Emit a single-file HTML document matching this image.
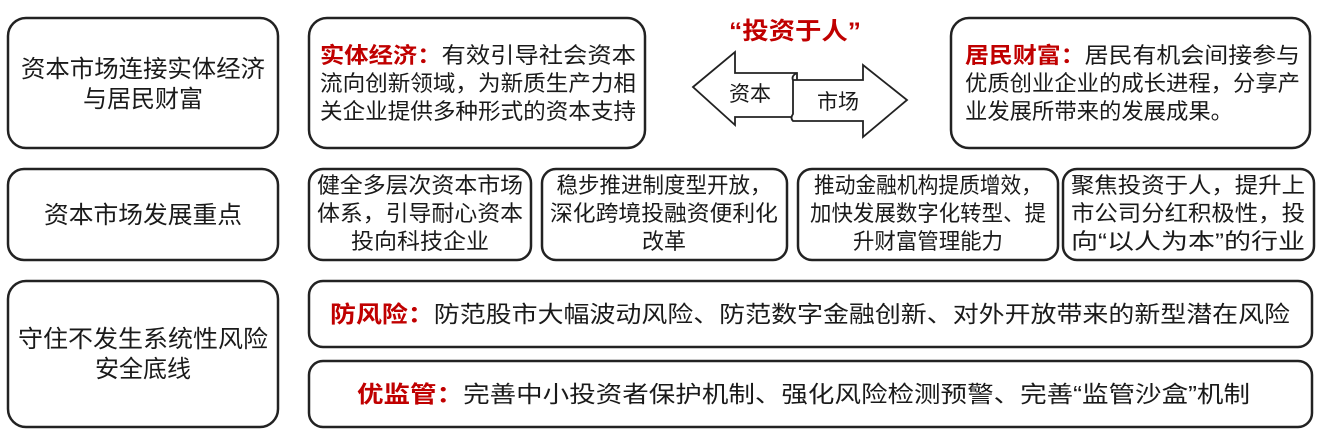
<!DOCTYPE html>
<html><head><meta charset="utf-8"><style>
html,body{margin:0;padding:0;background:#fff}
svg{display:block}
text{font-family:"Liberation Sans","Noto Sans CJK SC",sans-serif;fill:#1a1a1a}
.r{fill:#c00000;font-weight:bold}
</style></head><body>
<svg width="1323" height="435" viewBox="0 0 1323 435" xmlns="http://www.w3.org/2000/svg">
<g fill="none" stroke="#222" stroke-width="2.5">
<rect x="8" y="18" width="270" height="130" rx="18"/>
<rect x="309" y="18" width="336" height="130" rx="18"/>
<rect x="951" y="18" width="359" height="130" rx="18"/>
<rect x="8" y="169" width="270" height="91" rx="16"/>
<rect x="309" y="169" width="222" height="91" rx="14"/>
<rect x="542" y="169" width="245" height="91" rx="14"/>
<rect x="798" y="169" width="260" height="91" rx="14"/>
<rect x="1063" y="169" width="251" height="91" rx="14"/>
<rect x="8" y="281" width="270" height="146" rx="18"/>
<rect x="309" y="281" width="1003" height="66" rx="14"/>
<rect x="309" y="361" width="1003" height="66" rx="14"/>
</g>
<g fill="#fff" stroke="#222" stroke-width="1.8">
<path d="M693 87 L735 52 L735 73 L797 73 L797 117 L735 117 L735 125 Z"/>
<path d="M793 80 L863 80 L863 65 L907 100 L863 137 L863 121 L793 121 Q790 118 793 114 Z"/>
<path d="M793 80 Q791 76 797 73" />
</g>
<text x="795" y="39" text-anchor="middle" font-size="24" class="r" textLength="132" lengthAdjust="spacingAndGlyphs">“投资于人”</text>
<text x="750" y="101" text-anchor="middle" font-size="21">资本</text>
<text x="838" y="109" text-anchor="middle" font-size="21">市场</text>

<g font-size="22">
<text x="143" y="77" text-anchor="middle" font-size="24" textLength="244" lengthAdjust="spacingAndGlyphs">资本市场连接实体经济</text>
<text x="143" y="107" text-anchor="middle" font-size="24">与居民财富</text>
<text x="320" y="63" textLength="316" lengthAdjust="spacingAndGlyphs"><tspan class="r">实体经济：</tspan>有效引导社会资本</text>
<text x="320" y="91" textLength="316" lengthAdjust="spacingAndGlyphs">流向创新领域，为新质生产力相</text>
<text x="320" y="119" textLength="316" lengthAdjust="spacingAndGlyphs">关企业提供多种形式的资本支持</text>
<text x="965" y="63" textLength="335" lengthAdjust="spacingAndGlyphs"><tspan class="r">居民财富：</tspan>居民有机会间接参与</text>
<text x="965" y="91" textLength="335" lengthAdjust="spacingAndGlyphs">优质创业企业的成长进程，分享产</text>
<text x="965" y="119" textLength="268" lengthAdjust="spacingAndGlyphs">业发展所带来的发展成果。</text>

<text x="143" y="223" text-anchor="middle" font-size="24" textLength="198" lengthAdjust="spacingAndGlyphs">资本市场发展重点</text>
<text x="420" y="193" text-anchor="middle" textLength="206" lengthAdjust="spacingAndGlyphs">健全多层次资本市场</text>
<text x="420" y="221" text-anchor="middle" textLength="206" lengthAdjust="spacingAndGlyphs">体系，引导耐心资本</text>
<text x="420" y="249" text-anchor="middle" textLength="138" lengthAdjust="spacingAndGlyphs">投向科技企业</text>
<text x="664" y="193" text-anchor="middle" textLength="215" lengthAdjust="spacingAndGlyphs">稳步推进制度型开放，</text>
<text x="664" y="221" text-anchor="middle" textLength="228" lengthAdjust="spacingAndGlyphs">深化跨境投融资便利化</text>
<text x="664" y="249" text-anchor="middle">改革</text>
<text x="928" y="193" text-anchor="middle" textLength="228" lengthAdjust="spacingAndGlyphs">推动金融机构提质增效，</text>
<text x="928" y="221" text-anchor="middle" textLength="236" lengthAdjust="spacingAndGlyphs">加快发展数字化转型、提</text>
<text x="928" y="249" text-anchor="middle" textLength="150" lengthAdjust="spacingAndGlyphs">升财富管理能力</text>
<text x="1188" y="193" text-anchor="middle" textLength="234" lengthAdjust="spacingAndGlyphs">聚焦投资于人，提升上</text>
<text x="1188" y="221" text-anchor="middle" textLength="234" lengthAdjust="spacingAndGlyphs">市公司分红积极性，投</text>
<text x="1188" y="249" text-anchor="middle" textLength="234" lengthAdjust="spacingAndGlyphs">向“以人为本”的行业</text>

<text x="143" y="347" text-anchor="middle" font-size="24" textLength="250" lengthAdjust="spacingAndGlyphs">守住不发生系统性风险</text>
<text x="143" y="377" text-anchor="middle" font-size="24">安全底线</text>
<text x="330" y="322" font-size="23" textLength="960" lengthAdjust="spacingAndGlyphs"><tspan class="r">防风险：</tspan>防范股市大幅波动风险、防范数字金融创新、对外开放带来的新型潜在风险</text>
<text x="357" y="402" font-size="23" textLength="893" lengthAdjust="spacingAndGlyphs"><tspan class="r">优监管：</tspan>完善中小投资者保护机制、强化风险检测预警、完善“监管沙盒”机制</text>
</g>
</svg>
</body></html>
